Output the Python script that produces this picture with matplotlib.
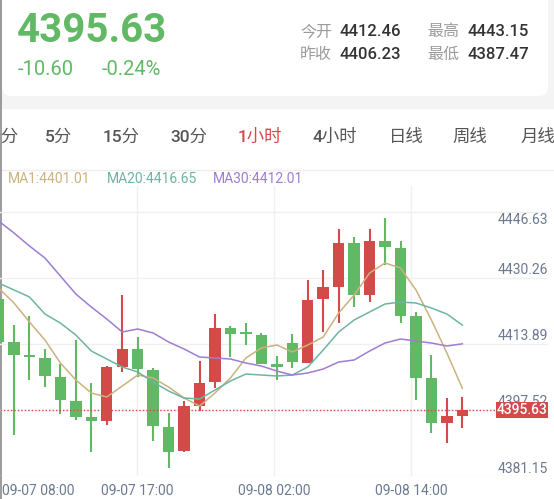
import numpy as np
import matplotlib.pyplot as plt
import matplotlib.transforms as mtransforms
from matplotlib.patches import FancyBboxPatch, Rectangle

# hourly candles (oldest first)
opens = [4423.10, 4412.46, 4409.24, 4408.50, 4403.80, 4397.86, 4393.90, 4392.91, 4406.27, 4410.73,
         4405.53, 4391.42, 4385.48, 4396.62, 4402.56, 4415.93, 4414.94, 4414.19, 4407.02, 4412.21,
         4407.26, 4423.10, 4426.07, 4436.96, 4424.09, 4437.46, 4435.73, 4418.90, 4403.55, 4392.41, 4394.14]
closes = [4412.46, 4409.24, 4408.75, 4404.05, 4398.11, 4393.90, 4392.91, 4406.27, 4410.73, 4405.78,
          4391.67, 4385.23, 4396.62, 4402.31, 4415.93, 4414.44, 4414.44, 4407.02, 4406.27, 4407.51,
          4422.86, 4426.07, 4436.96, 4424.09, 4437.46, 4435.97, 4418.90, 4403.55, 4392.41, 4394.14, 4395.63]
highs = [4423.85, 4416.67, 4418.90, 4410.73, 4407.02, 4412.96, 4402.31, 4406.52, 4424.09, 4413.70,
         4406.03, 4394.89, 4397.86, 4407.76, 4419.39, 4416.42, 4417.16, 4414.69, 4409.00, 4414.44,
         4427.81, 4430.28, 4440.43, 4438.45, 4440.43, 4443.15, 4437.46, 4419.89, 4409.24, 4398.60, 4398.85]
lows = [4411.72, 4389.44, 4403.06, 4401.32, 4394.64, 4393.15, 4385.23, 4391.92, 4405.04, 4403.80,
        4387.96, 4381.27, 4385.23, 4395.38, 4401.08, 4408.75, 4411.72, 4407.02, 4403.06, 4406.03,
        4407.26, 4414.94, 4417.16, 4421.12, 4422.36, 4431.52, 4417.16, 4398.11, 4389.94, 4387.47, 4391.17]

ma1 = [4425.83, 4422.11, 4417.41, 4412.96, 4407.26, 4403.06, 4399.84, 4398.85, 4401.57, 4404.29,
       4403.55, 4401.32, 4398.60, 4396.62, 4399.84, 4403.55, 4408.50, 4410.98, 4411.72, 4409.99,
       4411.72, 4413.70, 4419.64, 4424.09, 4429.54, 4432.01, 4430.78, 4425.33, 4417.91, 4409.74, 4401.01]
ma20 = [4427.06, 4425.33, 4423.60, 4419.39, 4417.16, 4414.19, 4410.23, 4408.25, 4406.27, 4405.04,
        4402.56, 4400.33, 4398.60, 4398.35, 4400.58, 4402.81, 4404.54, 4404.29, 4404.05, 4404.29,
        4406.27, 4410.48, 4414.94, 4417.91, 4419.89, 4421.87, 4422.36, 4422.11, 4420.88, 4419.39, 4416.65]
ma30 = [4442.41, 4439.44, 4436.22, 4433.25, 4428.80, 4424.34, 4421.12, 4418.15, 4414.94, 4415.68,
        4414.69, 4412.46, 4410.73, 4408.75, 4408.50, 4408.25, 4407.26, 4406.52, 4405.28, 4404.29,
        4404.79, 4405.78, 4407.51, 4408.01, 4410.23, 4412.21, 4413.20, 4412.71, 4412.21, 4411.47, 4412.01]

price_labels = ['4446.63', '4430.26', '4413.89', '4397.52', '4381.15']
grid_values = [4444.64, 4428.30, 4411.97, 4395.63, 4379.30]
time_labels = ['09-07 08:00', '09-07 17:00', '09-08 02:00', '09-08 14:00']
time_index = [0.13, 8.98, 17.82, 26.68]

tabs = ['1分', '5分', '15分', '30分', '1小时', '4小时', '日线', '周线', '月线']
quote_names = [['今开', '最高'], ['昨收', '最低']]
quote_values = [['4412.46', '4443.15'], ['4406.23', '4387.47']]
last_price = '4395.63'
change, change_pct = '-10.60', '-0.24%'

RED = '#d24b48'
GREEN = '#62b965'
C_MA1, C_MA20, C_MA30 = '#cbb27e', '#6fb4a2', '#9e7dd2'
AXIS_TXT = '#6b7a92'
GRID = '#f0f0f0'

plt.rcParams['font.family'] = ['Roboto', 'Noto Sans CJK SC', 'DejaVu Sans']

fig = plt.figure(figsize=(5.54, 4.99), dpi=100)
fig.patch.set_facecolor('white')

# background layer in pixel coordinates (y down)
bg = fig.add_axes([0, 0, 1, 1])
bg.set_xlim(0, 554)
bg.set_ylim(499, 0)
bg.axis('off')
bg.add_patch(Rectangle((0, 0), 554, 108, color='#f4f4f4', zorder=0))
bg.add_patch(FancyBboxPatch((2, -30), 546, 126, boxstyle='round,pad=0,rounding_size=9',
                            facecolor='white', edgecolor='none', zorder=1))
bg.plot([0.7, 0.7], [0, 499], color='#8a8a8a', lw=1.2, zorder=5)

# header quote
bg.text(17, 42, last_price, fontsize=29, fontweight='bold', color=GREEN, va='baseline', zorder=3)
bg.text(18, 75, change, fontsize=14.5, color=GREEN, va='baseline', zorder=3)
bg.text(102, 75, change_pct, fontsize=14.5, color=GREEN, va='baseline', zorder=3)
for r, base in enumerate([36, 59]):
    for c, x0 in enumerate([300, 427]):
        bg.text(x0, base, quote_names[r][c], fontsize=11.5, color='#9b9b9b', va='baseline', zorder=3)
        bg.text(x0 + 40, base, quote_values[r][c], fontsize=12, fontweight='medium',
                color='#333333', va='baseline', zorder=3)

# period tabs
tab_x = [5, 58.5, 121.5, 188.5, 260, 335, 406, 470, 538]
for name, x0 in zip(tabs, tab_x):
    bg.text(x0, 142, name, fontsize=12.5, fontweight='medium', ha='center', va='baseline',
            color=RED if name == '1小时' else '#555555', zorder=3)

bg.plot([0, 554], [170, 170], color='#eeeeee', lw=1, zorder=2)

# MA legend
for x0, txt, col in [(8, f'MA1:{ma1[-1]:.2f}', C_MA1), (107, f'MA20:{ma20[-1]:.2f}', C_MA20),
                     (213, f'MA30:{ma30[-1]:.2f}', C_MA30)]:
    bg.text(x0, 183, txt, fontsize=10, color=col, va='baseline', zorder=3)

# candle chart
ax = fig.add_axes([0, 1 - 476 / 499, 548 / 554, 290 / 499])
ax.set_facecolor('none')
ax.set_xlim(0.094, 35.54)
ax.set_ylim(4379.30, 4451.07)
for s in ax.spines.values():
    s.set_visible(False)
ax.set_xticks([])
ax.set_yticks([])

for g in grid_values:
    ax.axhline(g, color=GRID, lw=1, zorder=0)
for t in time_index[1:]:
    ax.axvline(t, color=GRID, lw=1, zorder=0)

idx = np.arange(len(opens))
for i in idx:
    o, c = opens[i], closes[i]
    col = RED if c > o else GREEN
    ax.vlines(i, lows[i], highs[i], color=col, lw=1.5, zorder=2)
    ax.bar(i, max(abs(c - o), 0.4), bottom=min(o, c), width=0.74, color=col, zorder=2)

ax.plot(idx, ma1, color=C_MA1, lw=1.1, zorder=3)
ax.plot(idx, ma20, color=C_MA20, lw=1.1, zorder=3)
ax.plot(idx, ma30, color=C_MA30, lw=1.1, zorder=3)

# last price line and tag
ax.axhline(closes[-1], xmin=0, xmax=496 / 548, color=RED, lw=1, ls=(0, (1, 1.5)), zorder=4)

trans = mtransforms.blended_transform_factory(ax.transAxes, ax.transData)
for k, lab in enumerate(price_labels):
    if k == 0:
        ax.annotate(lab, xy=(1, float(lab)), xycoords=trans, xytext=(0, -16),
                    textcoords='offset pixels', ha='right', va='center', fontsize=10,
                    color=AXIS_TXT, zorder=5)
    else:
        ax.text(1, float(lab), lab, transform=trans, ha='right', va='center',
                fontsize=10, color=AXIS_TXT, zorder=5)

ax.add_patch(Rectangle((496 / 548, closes[-1] - 1.86), 1 - 496 / 548, 3.72, transform=trans,
                       facecolor=RED, edgecolor='none', zorder=6, clip_on=False))
ax.text(0.998, closes[-1], f'{closes[-1]:.2f}', transform=trans, ha='right', va='center',
        fontsize=10, fontweight='medium', color='white', zorder=7)

# time axis labels
for k, (lab, t) in enumerate(zip(time_labels, time_index)):
    bx = ax.transData.transform((t, 0))[0]
    if k == 0:
        bg.text(2, 495, lab, fontsize=10, color=AXIS_TXT, ha='left', va='baseline')
    else:
        bg.text(bx, 495, lab, fontsize=10, color=AXIS_TXT, ha='center', va='baseline')

fig.savefig('out.png', dpi=100)
